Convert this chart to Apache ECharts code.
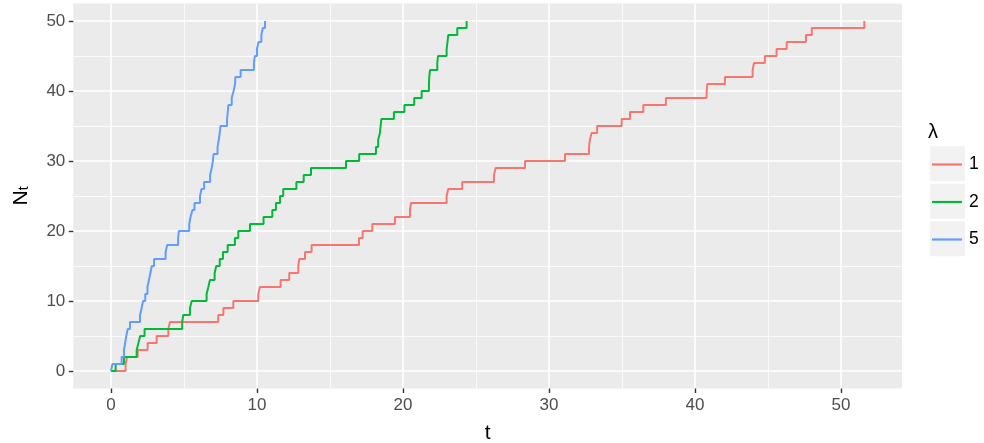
<!DOCTYPE html>
<html>
<head>
<meta charset="utf-8">
<script src="https://cdn.jsdelivr.net/npm/echarts@6/dist/echarts.min.js"></script>
<style>
html,body{margin:0;padding:0;background:#fff;}
#chart{width:984px;height:443px;}
</style>
</head>
<body>
<div id="chart"></div>
<script>
// Legend labels (lambda values)
const lambdaLabels = ['1', '2', '5'];
// Jump times (t at which N_t increases by one)
const jumpTimes1 = [1.0, 1.1, 1.83, 2.51, 3.13, 3.93, 4.04, 7.35, 7.7, 8.38,
  10.09, 10.2, 11.62, 12.21, 12.83, 12.9, 13.29, 13.74, 16.99, 17.24,
  17.9, 19.45, 20.48, 20.55, 22.99, 23.1, 24.06, 26.23, 26.35, 28.36,
  31.1, 32.74, 32.8, 32.92, 33.3, 34.98, 35.55, 36.46, 38.01, 40.8,
  40.85, 42.05, 43.95, 44.04, 44.79, 45.59, 46.28, 47.6, 48.0, 51.6];
const jumpTimes2 = [0.32, 0.89, 1.76, 1.88, 2.0, 2.3, 4.88, 4.95, 5.41, 5.53,
  6.55, 6.67, 6.78, 7.1, 7.21, 7.45, 7.67, 7.99, 8.49, 8.72,
  9.52, 10.45, 11.05, 11.3, 11.58, 11.8, 12.7, 13.2, 13.7, 16.1,
  17.0, 18.15, 18.3, 18.42, 18.47, 18.52, 19.38, 20.1, 20.77, 21.28,
  21.78, 21.8, 21.85, 22.35, 22.4, 22.99, 23.05, 23.1, 23.72, 24.36];
const jumpTimes5 = [0.1, 0.73, 0.89, 0.97, 1.05, 1.15, 1.3, 1.99, 2.1, 2.2,
  2.35, 2.5, 2.6, 2.7, 2.8, 2.95, 3.74, 3.85, 4.6, 4.65,
  5.36, 5.45, 5.58, 5.72, 6.1, 6.2, 6.38, 6.79, 6.9, 6.98,
  7.03, 7.3, 7.38, 7.45, 7.5, 7.95, 8.0, 8.04, 8.27, 8.4,
  8.5, 8.52, 8.88, 9.79, 9.85, 10.0, 10.1, 10.3, 10.4, 10.55];
// Axis tick values
const xMajorTicks = [0, 10, 20, 30, 40, 50];
const xMinorTicks = [5, 15, 25, 35, 45];
const yMajorTicks = [0, 10, 20, 30, 40, 50];
const yMinorTicks = [5, 15, 25, 35, 45];

const colors = ['#F8766D', '#00BA38', '#619CFF'];
const allTimes = [jumpTimes1, jumpTimes2, jumpTimes5];

function toSteps(times) {
  return [[0, 0]].concat(times.map((t, i) => [t, i + 1]));
}

const FONT = '"Liberation Sans", Arial, Helvetica, sans-serif';
const xMin = -2.58, xMax = 54.18, yMin = -2.5, yMax = 52.5;
const LABEL_SIZE = 17;

const chart = echarts.init(document.getElementById('chart'), null, {renderer: 'canvas'});

const series = allTimes.map((times, k) => ({
  name: lambdaLabels[k],
  type: 'line',
  step: 'end',
  data: toSteps(times),
  showSymbol: false,
  symbol: 'none',
  lineStyle: {color: colors[k], width: 2},
  itemStyle: {color: colors[k]},
  xAxisIndex: 0,
  yAxisIndex: 0,
  z: 3 + k
}));

const keyRects = [0, 1, 2].map(i => ({
  type: 'rect',
  shape: {x: 930, y: 146.3 + i * 37.5, width: 35, height: 35},
  style: {fill: '#F2F2F2'},
  silent: true
}));

chart.setOption({
  animation: false,
  textStyle: {fontFamily: FONT},
  title: {
    text: 'λ',
    left: 928,
    top: 122,
    padding: 0,
    textStyle: {fontFamily: FONT, fontSize: 20, fontWeight: 'normal', color: '#000'}
  },
  legend: {
    orient: 'vertical',
    left: 932,
    top: 155.5,
    padding: 0,
    itemWidth: 30,
    itemHeight: 2.2,
    itemGap: 19.5,
    icon: 'rect',
    data: lambdaLabels,
    textStyle: {fontFamily: FONT, fontSize: LABEL_SIZE + 0.5, color: '#000', lineHeight: 18, padding: [0, 0, 0, 2]}
  },
  graphic: keyRects,
  grid: {
    left: 73.3,
    right: 82,
    top: 3.5,
    bottom: 54.5,
    outerBoundsMode: 'none',
    containLabel: false,
    show: true,
    backgroundColor: '#EBEBEB',
    borderWidth: 0
  },
  xAxis: [{
    type: 'value',
    min: xMin,
    max: xMax,
    name: 't',
    nameLocation: 'middle',
    nameGap: 34,
    nameTextStyle: {fontFamily: FONT, fontSize: 21, color: '#000'},
    axisLine: {show: false, onZero: false},
    axisTick: {show: true, length: 4.5, lineStyle: {color: '#333333', width: 1.4}, customValues: xMajorTicks},
    axisLabel: {show: true, margin: 8, color: '#4D4D4D', fontSize: LABEL_SIZE, fontFamily: FONT, customValues: xMajorTicks},
    splitLine: {show: true, lineStyle: {color: '#FFFFFF', width: 1.6}}
  }, {
    type: 'value',
    min: xMin,
    max: xMax,
    position: 'bottom',
    axisLine: {show: false, onZero: false},
    axisTick: {show: false, customValues: xMinorTicks},
    axisLabel: {show: false, customValues: xMinorTicks},
    splitLine: {show: true, lineStyle: {color: '#FFFFFF', width: 0.8}}
  }],
  yAxis: [{
    type: 'value',
    min: yMin,
    max: yMax,
    name: '{n|N}{s|t}',
    nameLocation: 'middle',
    nameGap: 42,
    nameRotate: 90,
    nameTextStyle: {
      fontFamily: FONT, color: '#000',
      rich: {
        n: {fontSize: 21, fontFamily: FONT, color: '#000', verticalAlign: 'bottom', lineHeight: 21},
        s: {fontSize: 14, fontFamily: FONT, color: '#000', verticalAlign: 'bottom', lineHeight: 6}
      }
    },
    axisLine: {show: false, onZero: false},
    axisTick: {show: true, length: 4.5, lineStyle: {color: '#333333', width: 1.4}, customValues: yMajorTicks},
    axisLabel: {show: true, margin: 8, color: '#4D4D4D', fontSize: LABEL_SIZE, fontFamily: FONT, customValues: yMajorTicks},
    splitLine: {show: true, lineStyle: {color: '#FFFFFF', width: 1.6}}
  }, {
    type: 'value',
    min: yMin,
    max: yMax,
    position: 'left',
    axisLine: {show: false, onZero: false},
    axisTick: {show: false, customValues: yMinorTicks},
    axisLabel: {show: false, customValues: yMinorTicks},
    splitLine: {show: true, lineStyle: {color: '#FFFFFF', width: 0.8}}
  }],
  series: series
});
</script>
</body>
</html>
